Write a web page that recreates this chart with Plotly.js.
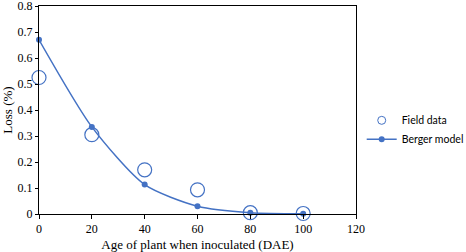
<!DOCTYPE html>
<html><head><meta charset="utf-8">
<script src="https://cdn.plot.ly/plotly-3.0.1.min.js"></script>
<style>html,body{margin:0;padding:0;background:#fff}#c{width:466px;height:252px}</style>
</head><body><div id="c"></div>
<script>
const ages = [0, 20, 40, 60, 80, 100];
const fieldLoss = [0.525, 0.305, 0.17, 0.093, 0.005, 0.002];
const bergerLoss = [0.67, 0.335, 0.113, 0.03, 0.005, 0.001];
const xTicks = [0, 20, 40, 60, 80, 100, 120];
const yTicks = [0, 0.1, 0.2, 0.3, 0.4, 0.5, 0.6, 0.7, 0.8];
const blue = '#4472C4';
const traces = [
  {x: ages, y: fieldLoss, name: 'Field data', type: 'scatter', mode: 'markers', showlegend: false,
   marker: {symbol: 'circle-open', size: 14, color: blue, line: {width: 1.2, color: blue}}, cliponaxis: false},
  {x: [null], y: [null], name: 'Field data', type: 'scatter', mode: 'markers',
   marker: {symbol: 'circle-open', size: 8, color: blue, line: {width: 1, color: blue}}},
  {x: ages, y: bergerLoss, name: 'Berger model', type: 'scatter', mode: 'lines+markers',
   line: {shape: 'spline', smoothing: 0.7, color: blue, width: 1.5},
   marker: {size: 6, color: blue}, cliponaxis: false}
];
const axisFont = {family: 'Liberation Serif, Times New Roman, serif', size: 12, color: '#000'};
const layout = {
  width: 466, height: 252,
  margin: {l: 39, r: 110, t: 6, b: 38, autoexpand: false},
  paper_bgcolor: '#fff', plot_bgcolor: '#fff',
  showlegend: true,
  legend: {x: 1.018, y: 0.52, xanchor: 'left', yanchor: 'top',
           font: {family: 'Lato, Liberation Sans, sans-serif', size: 10.5, color: '#000'},
           tracegroupgap: 4, itemwidth: 30},
  xaxis: {range: [0, 120], tickvals: xTicks, ticktext: xTicks.map(String),
          showgrid: false, zeroline: false, showline: true, linecolor: '#000', linewidth: 1,
          mirror: true, ticks: 'outside', ticklen: 4, tickcolor: '#000',
          tickfont: axisFont,
          title: {text: 'Age of plant when inoculated (DAE)', font: {family: 'Liberation Serif, Times New Roman, serif', size: 13, color: '#000'}, standoff: 4}},
  yaxis: {range: [0, 0.8], tickvals: yTicks, ticktext: yTicks.map(v => v === 0 ? '0' : v.toFixed(1)),
          showgrid: false, zeroline: false, showline: true, linecolor: '#000', linewidth: 1,
          mirror: true, ticks: 'outside', ticklen: 3, tickcolor: '#000',
          tickfont: axisFont, ticklabeloverflow: 'allow',
          title: {text: 'Loss (%)', font: {family: 'Liberation Serif, Times New Roman, serif', size: 13, color: '#000'}, standoff: 2}}
};
Plotly.newPlot('c', traces, layout, {displayModeBar: false, staticPlot: true});
</script></body></html>
